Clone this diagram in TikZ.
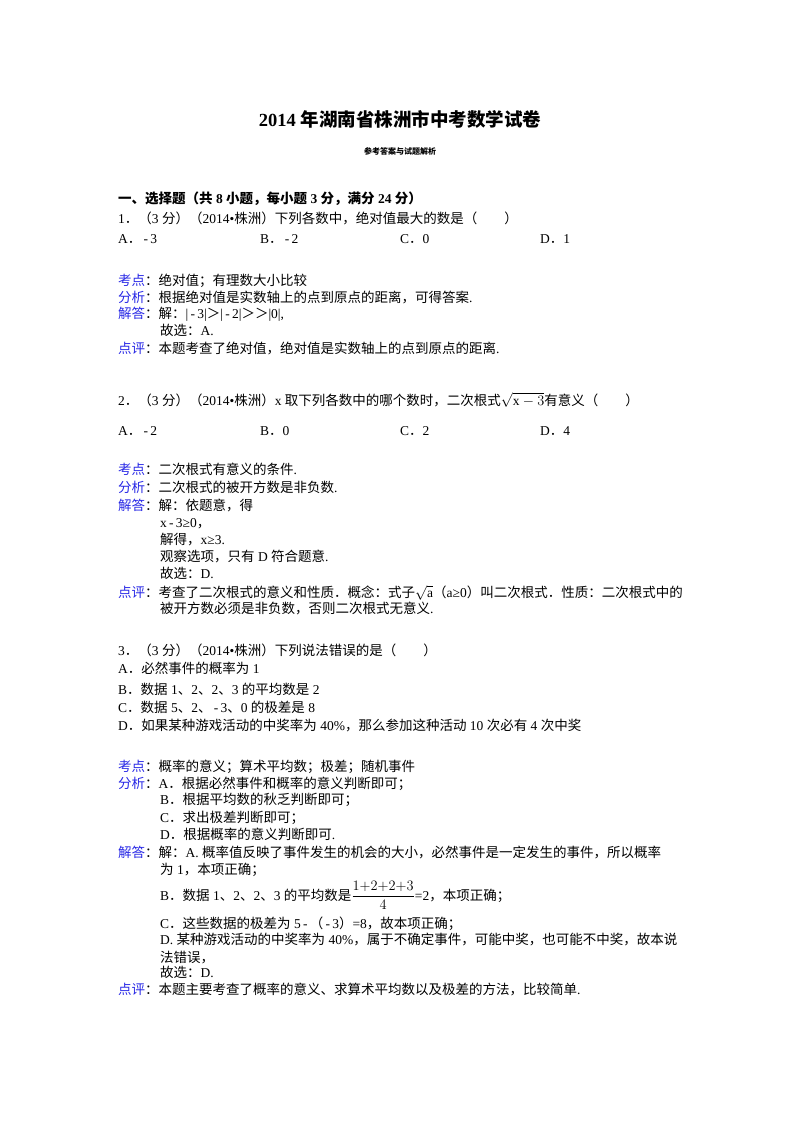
\documentclass[tikz,border=0pt]{standalone}
\usepackage{fontspec}
\setmainfont{Liberation Serif}
\newfontfamily\cjk{Noto Sans CJK SC}
\newfontfamily\latn{Liberation Serif}
\newXeTeXintercharclass\cjkc
\newcount\cc
\cc="4E00 \loop\ifnum\cc<"A000 \XeTeXcharclass\cc=\cjkc \advance\cc by 1 \repeat
\cc="3000 \loop\ifnum\cc<"3040 \XeTeXcharclass\cc=\cjkc \advance\cc by 1 \repeat
\cc="FF00 \loop\ifnum\cc<"FFF0 \XeTeXcharclass\cc=\cjkc \advance\cc by 1 \repeat
\XeTeXinterchartoks 0 \cjkc = {\cjk}
\XeTeXinterchartoks 4095 \cjkc = {\cjk}
\XeTeXinterchartoks \cjkc 0 = {\latn}
\XeTeXinterchartoks \cjkc 4095 = {\latn}
\definecolor{lab}{RGB}{40,40,230}
\newcommand{\lb}[1]{\textcolor{lab}{#1}}
\begin{document}
\XeTeXinterchartokenstate=1
\begin{tikzpicture}[x=1pt,y=-1pt,
  tx/.style={anchor=base west,inner sep=0pt,font=\fontsize{13.5}{16}\selectfont}]
\useasboundingbox[fill=white] (0,0) rectangle (800,1132);
\node[anchor=base,inner sep=0pt,font=\fontsize{18.5}{22}\selectfont\bfseries] (title) at (400,126) {2014 年湖南省株洲市中考数学试卷};
\node[anchor=base,inner sep=0pt,font=\fontsize{8}{10}\selectfont\bfseries] (sub) at (400,154) {参考答案与试题解析};
\node[tx,font=\fontsize{13.5}{16}\selectfont\bfseries] (sec) at (118,203) {一、选择题（共 8 小题，每小题 3 分，满分 24 分）};
% Q1
\node[tx] (q1) at (118,223) {1．（3 分）（2014•株洲）下列各数中，绝对值最大的数是（\hspace{2em}）};
\node[tx] (q1a) at (118,243) {A．\,-\,3};
\node[tx] (q1b) at (260,243) {B．\,-\,2};
\node[tx] (q1c) at (400,243) {C．0};
\node[tx] (q1d) at (540,243) {D．1};
\node[tx] (k1) at (118,285) {\lb{考点}：绝对值；有理数大小比较};
\node[tx] (f1) at (118,302) {\lb{分析}：根据绝对值是实数轴上的点到原点的距离，可得答案.};
\node[tx] (j1) at (118,318) {\lb{解答}：解：|\,-\,3|＞|\,-\,2|＞＞|0|,};
\node[tx] (g1) at (160,335) {故选：A.};
\node[tx] (d1) at (118,353) {\lb{点评}：本题考查了绝对值，绝对值是实数轴上的点到原点的距离.};
% Q2
\node[tx] (q2) at (118,405) {2．（3 分）（2014•株洲）x 取下列各数中的哪个数时，二次根式$\sqrt{\mathrm{x}-3}$有意义（\hspace{2em}）};
\node[tx] (q2a) at (118,435) {A．\,-\,2};
\node[tx] (q2b) at (260,435) {B．0};
\node[tx] (q2c) at (400,435) {C．2};
\node[tx] (q2d) at (540,435) {D．4};
\node[tx] (k2) at (118,474) {\lb{考点}：二次根式有意义的条件.};
\node[tx] (f2) at (118,492) {\lb{分析}：二次根式的被开方数是非负数.};
\node[tx] (j2) at (118,510) {\lb{解答}：解：依题意，得};
\node[tx] (j2b) at (160,527) {x\,-\,3≥0，};
\node[tx] (j2c) at (160,544) {解得，x≥3.};
\node[tx] (j2d) at (160,561) {观察选项，只有 D 符合题意.};
\node[tx] (j2e) at (160,578) {故选：D.};
\node[tx] (d2) at (118,597) {\lb{点评}：考查了二次根式的意义和性质．概念：式子$\sqrt{\mathrm{a}}$（a≥0）叫二次根式．性质：二次根式中的};
\node[tx] (d2b) at (160,613) {被开方数必须是非负数，否则二次根式无意义.};
% Q3
\node[tx] (q3) at (118,655) {3．（3 分）（2014•株洲）下列说法错误的是（\hspace{2em}）};
\node[tx] (q3a) at (118,673) {A．必然事件的概率为 1};
\node[tx] (q3b) at (118,694) {B．数据 1、2、2、3 的平均数是 2};
\node[tx] (q3c) at (118,712) {C．数据 5、2、\,-\,3、0 的极差是 8};
\node[tx] (q3d) at (118,730) {D．如果某种游戏活动的中奖率为 40\%，那么参加这种活动 10 次必有 4 次中奖};
\node[tx] (k3) at (118,771) {\lb{考点}：概率的意义；算术平均数；极差；随机事件};
\node[tx] (f3) at (118,788) {\lb{分析}：A．根据必然事件和概率的意义判断即可；};
\node[tx] (f3b) at (160,804) {B．根据平均数的秋乏判断即可；};
\node[tx] (f3c) at (160,822) {C．求出极差判断即可；};
\node[tx] (f3d) at (160,839) {D．根据概率的意义判断即可.};
\node[tx] (j3) at (118,857) {\lb{解答}：解：A. 概率值反映了事件发生的机会的大小，必然事件是一定发生的事件，所以概率};
\node[tx] (j3b) at (160,874) {为 1，本项正确；};
\node[tx] (j3c) at (160,900) {B．数据 1、2、2、3 的平均数是$\displaystyle\frac{1{+}2{+}2{+}3}{4}$=2，本项正确；};
\node[tx] (j3d) at (160,928) {C．这些数据的极差为 5\,-\,（\,-\,3）=8，故本项正确；};
\node[tx] (j3e) at (160,944) {D. 某种游戏活动的中奖率为 40\%，属于不确定事件，可能中奖，也可能不中奖，故本说};
\node[tx] (j3f) at (160,962) {法错误，};
\node[tx] (j3g) at (160,977) {故选：D.};
\node[tx] (d3) at (118,994) {\lb{点评}：本题主要考查了概率的意义、求算术平均数以及极差的方法，比较简单.};
\end{tikzpicture}
\end{document}
